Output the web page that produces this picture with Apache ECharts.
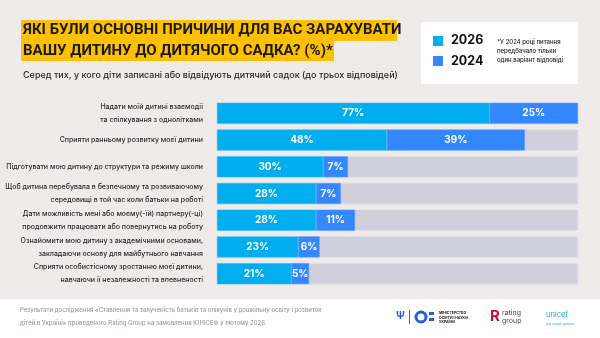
<!DOCTYPE html>
<html><head><meta charset="utf-8">
<script src="https://cdn.jsdelivr.net/npm/echarts@6/dist/echarts.min.js"></script>
<style>html,body{margin:0;padding:0;background:#efebeb}#c{width:600px;height:338px}</style>
</head><body><div id="c"></div>
<script>
var categories = [
  'Надати моїй дитині взаємодії\nта спілкування з однолітками',
  'Сприяти ранньому розвитку моєї дитини',
  'Підготувати мою дитину до структури та режиму школи',
  'Щоб дитина перебувала в безпечному та розвиваючому\nсередовищі в той час коли батьки на роботі',
  'Дати можливість мені або моєму(-їй) партнеру(-ці)\nпродовжити працювати або повернутись на роботу',
  'Ознайомити мою дитину з академічними основами,\nзакладаючи основу для майбутнього навчання',
  'Сприяти особистісному зростанню моєї дитини,\nнавчаючи її незалежності та впевненості'
];
var values2026 = [77, 48, 30, 28, 28, 23, 21];
var values2024 = [25, 39, 7, 7, 11, 6, 5];
var seriesNames = ['2026', '2024'];

var chart = echarts.init(document.getElementById('c'), null, {renderer: 'canvas'});
var FONT = 'Inter, "Open Sans", sans-serif';
var TFONT = 'Roboto, sans-serif';
var labelCfg = {show: true, position: 'inside', color: '#ffffff', fontFamily: FONT, fontWeight: 'bold', fontSize: 10, formatter: '{c}%'};
chart.setOption({
  backgroundColor: '#efebeb',
  animation: false,
  grid: {left: 217, right: 22, top: 100, height: 187, containLabel: false, outerBoundsMode: 'none'},
  xAxis: {type: 'value', min: 0, max: 102, show: false},
  yAxis: {
    type: 'category', data: categories, inverse: true,
    axisLine: {show: false}, axisTick: {show: false},
    axisLabel: {margin: 14, color: '#2a2a2a', fontFamily: FONT, fontSize: 7, lineHeight: 13, fontWeight: 500}
  },
  series: [
    {name: seriesNames[0], type: 'bar', stack: 'a', data: values2026, barWidth: 21,
     showBackground: true, backgroundStyle: {color: '#d0d0dc', borderColor: '#e2e2ee', borderWidth: 1},
     itemStyle: {color: '#00aeef', borderColor: '#33c0f5', borderWidth: 0.5}, label: labelCfg},
    {name: seriesNames[1], type: 'bar', stack: 'a', data: values2024, barWidth: 21,
     itemStyle: {color: '#3388ff', borderColor: '#5a9fff', borderWidth: 0.5}, label: labelCfg}
  ],
  graphic: [
    {type: 'rect', shape: {x: 21, y: 20, width: 376, height: 21}, style: {fill: '#ffc000'}},
    {type: 'rect', shape: {x: 21, y: 41, width: 313, height: 20}, style: {fill: '#ffc000'}},
    {type: 'text', left: 23, top: 23, style: {text: 'ЯКІ БУЛИ ОСНОВНІ ПРИЧИНИ ДЛЯ ВАС ЗАРАХУВАТИ', fill: '#1a1a1a', font: 'bold 15px ' + TFONT}},
    {type: 'text', left: 23, top: 43.5, style: {text: 'ВАШУ ДИТИНУ ДО ДИТЯЧОГО САДКА? (%)*', fill: '#1a1a1a', font: 'bold 15px ' + TFONT}},
    {type: 'text', left: 23, top: 71, style: {text: 'Серед тих, у кого діти записані або відвідують дитячий садок (до трьох відповідей)', fill: '#2a2a2a', font: '500 9px ' + FONT}},
    {type: 'rect', shape: {x: 421, y: 22, width: 157, height: 62}, style: {fill: '#ffffff'}},
    {type: 'rect', shape: {x: 433, y: 36, width: 10, height: 10}, style: {fill: '#00aeef'}},
    {type: 'rect', shape: {x: 433, y: 56, width: 10, height: 10}, style: {fill: '#3388ff'}},
    {type: 'text', left: 451, top: 34, style: {text: seriesNames[0], fill: '#111', font: 'bold 12.5px ' + FONT}},
    {type: 'text', left: 451, top: 55, style: {text: seriesNames[1], fill: '#111', font: 'bold 12.5px ' + FONT}},
    {type: 'text', left: 497, top: 38, style: {text: '*У 2024 році питання\nпередбачало тільки\nодин варіант відповіді', fill: '#222', font: '500 6px ' + FONT, lineHeight: 9}},
    {type: 'rect', shape: {x: 0, y: 299, width: 600, height: 39}, style: {fill: '#ffffff'}},
    {type: 'text', left: 20, top: 304, style: {text: 'Результати дослідження «Ставлення та залученість батьків та опікунів у дошкільну освіту і розвиток\nдітей в Україні» проведеного Rating Group на замовлення ЮНІСЕФ у лютому 2026', fill: '#9a9aaa', font: '500 6px ' + FONT, lineHeight: 13}},
    {type: 'text', left: 396, top: 311, style: {text: 'Ψ', fill: '#2a5bd7', font: 'bold 10px ' + FONT}},
    {type: 'rect', shape: {x: 409, y: 310, width: 1, height: 14}, style: {fill: '#2a5bd7'}},
    {type: 'circle', shape: {cx: 421, cy: 317, r: 5}, style: {fill: 'none', stroke: '#2a5bd7', lineWidth: 3}},
    {type: 'rect', shape: {x: 429, y: 312, width: 5, height: 3}, style: {fill: '#2a5bd7'}},
    {type: 'rect', shape: {x: 429, y: 318, width: 5, height: 3}, style: {fill: '#2a5bd7'}},
    {type: 'text', left: 439, top: 311, style: {text: 'МІНІСТЕРСТВО\nОСВІТИ І НАУКИ\nУКРАЇНИ', fill: '#222', font: 'bold 3.5px ' + FONT, lineHeight: 4.5}},
    {type: 'text', left: 490, top: 309, style: {text: 'R', fill: '#c8102e', font: 'bold 15px ' + FONT}},
    {type: 'text', left: 502, top: 309, style: {text: 'rating\ngroup', fill: '#444', font: '7px ' + FONT, lineHeight: 8}},
    {type: 'text', left: 546, top: 311, style: {text: 'unicef', fill: '#1cabe2', font: '7.5px ' + FONT}},
    {type: 'text', left: 546, top: 323, style: {text: 'для кожної дитини', fill: '#1cabe2', font: '3px ' + FONT}}
  ]
});
</script></body></html>
